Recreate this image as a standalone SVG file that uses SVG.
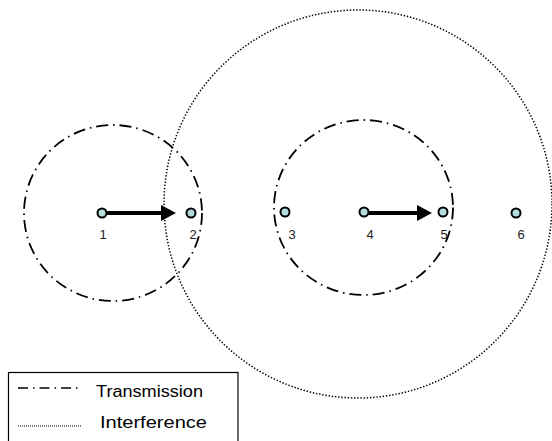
<svg xmlns="http://www.w3.org/2000/svg" width="552" height="441" viewBox="0 0 552 441">
<style>
.tx{fill:none;stroke:#000;stroke-width:1.8;stroke-dasharray:12 5 1.5 5}
.intf{fill:none;stroke:#000;stroke-width:1.5;stroke-dasharray:1.4 1.8}
.node{fill:#b4dcdc;stroke:#000;stroke-width:2}
.lbl{font-family:"Liberation Sans",Arial,sans-serif;font-size:13px;fill:#222;text-anchor:middle}
.leg{font-family:"Liberation Sans",Arial,sans-serif;font-size:16px;fill:#000}
.shaft{stroke:#000;stroke-width:4}
</style>
<defs>
<marker id="ah" markerWidth="16" markerHeight="18" refX="14" refY="8" orient="auto" markerUnits="userSpaceOnUse">
<path d="M0,0 L15,8 L0,16 Z" fill="#000"/>
</marker>
</defs>
<rect width="552" height="441" fill="#fff"/>
<g id="ranges">
<ellipse class="intf" cx="358" cy="204" rx="194" ry="194"/>
<ellipse class="tx" cx="113" cy="213" rx="89" ry="88"/>
<ellipse class="tx" cx="363.5" cy="207.5" rx="89.5" ry="87.5"/>
</g>
<g id="connectors">
<line class="shaft" x1="103" y1="213" x2="164" y2="213"/>
<path d="M161,205 L176,213 L161,221 Z" fill="#000"/>
<line class="shaft" x1="364" y1="213" x2="420" y2="213"/>
<path d="M417,205 L432,213 L417,221 Z" fill="#000"/>
</g>
<g id="n1"><circle class="node" cx="102" cy="213" r="4.5"/><text class="lbl" x="103" y="239">1</text></g>
<g id="n2"><circle class="node" cx="191" cy="213" r="4.5"/><text class="lbl" x="193" y="239">2</text></g>
<g id="n3"><circle class="node" cx="285" cy="212" r="4.5"/><text class="lbl" x="292" y="239">3</text></g>
<g id="n4"><circle class="node" cx="364" cy="212" r="4.5"/><text class="lbl" x="370" y="239">4</text></g>
<g id="n5"><circle class="node" cx="443" cy="212" r="4.5"/><text class="lbl" x="444" y="239">5</text></g>
<g id="n6"><circle class="node" cx="516" cy="213" r="4.5"/><text class="lbl" x="521" y="239">6</text></g>
<g id="legend">
<rect x="8.5" y="372.5" width="229.5" height="80" fill="#fff" stroke="#000" stroke-width="1.2"/>
<line x1="18" y1="388" x2="82" y2="388" stroke="#000" stroke-width="1.5" stroke-dasharray="10 5 1.5 5"/>
<line x1="18" y1="426" x2="82" y2="426" stroke="#000" stroke-width="1" stroke-dasharray="1 1"/>
<text class="leg" x="96" y="397" textLength="107" lengthAdjust="spacingAndGlyphs">Transmission</text>
<text class="leg" x="100" y="428" textLength="107" lengthAdjust="spacingAndGlyphs">Interference</text>
</g>
</svg>
